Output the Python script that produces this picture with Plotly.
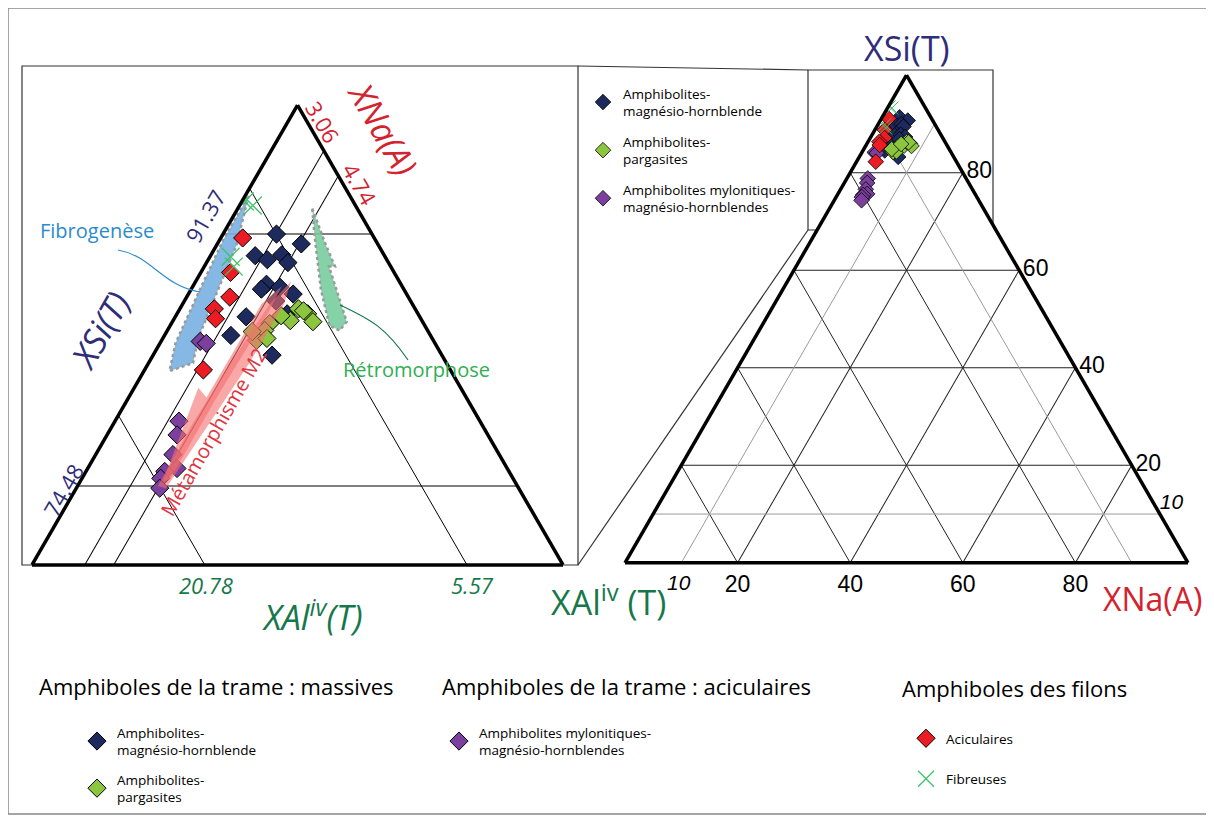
import plotly.graph_objects as go

PAGE_W, PAGE_H, OFF = 1214, 823, 8
W, H = PAGE_W - 2 * OFF, PAGE_H - 2 * OFF
FONT = "Open Sans"

# ternary coordinates: a = XSi(T), c = XNa(A), b = XAl iv (T) (rest up to 100)
mghb_si = [91.36, 90.70, 89.91, 89.64, 89.97, 89.45, 88.00, 87.67, 87.80, 87.34, 86.02, 85.82, 84.57, 83.25, 86.88]
mghb_na = [3.10, 4.87, 2.59, 3.43, 4.10, 4.72, 4.20, 4.07, 5.08, 6.08, 6.39, 4.11, 3.85, 6.90, 5.30]

parg_si = [85.36, 84.90, 84.24, 84.37, 85.56, 86.35, 86.02, 85.49, 84.83, 86.22, 85.89]
parg_na = [5.71, 5.65, 5.51, 6.04, 6.80, 6.88, 7.58, 8.15, 4.96, 7.24, 6.10]

mylo_si = [84.17, 84.04, 78.83, 77.91, 76.59, 75.66, 75.46, 75.00, 74.34]
mylo_na = [2.27, 2.69, 3.71, 4.06, 4.48, 5.18, 4.57, 4.57, 4.84]

acic_si = [91.10, 88.79, 87.14, 86.35, 85.69, 82.26]
acic_na = [1.27, 1.72, 2.50, 2.00, 2.40, 3.41]

fibr_si = [93.54, 93.27, 89.84, 89.18]
fibr_na = [0.17, 0.77, 1.20, 1.71]

# zoomed ternary: axis minimum and labelled grid values
zoom_si_min = 69.2
zoom_si_ticks = [74.48, 91.37]
zoom_al_ticks = [5.57, 20.78]
zoom_na_ticks = [3.06, 4.74]

# full ternary grid
full_ticks = [20, 40, 60, 80]
minor_tick = 10

# trend arrows (a = XSi, c = XNa)
fibro_si = [93.93, 90.63, 87.34, 84.37, 82.72, 82.19, 84.04, 87.34, 90.96]
fibro_na = [0.20, 1.15, 1.62, 2.05, 2.58, 1.48, 0.90, 0.55, 0.21]
retro_si = [93.07, 90.63, 89.18, 89.18, 85.49, 84.90, 85.23, 87.67, 91.29]
retro_na = [4.32, 6.33, 7.59, 7.24, 10.11, 9.99, 9.23, 7.52, 5.34]
meta1_si = [88.19, 86.68, 82.72, 78.10, 74.34, 74.48, 78.76, 83.38, 86.68]
meta1_na = [5.53, 5.88, 5.85, 5.50, 5.20, 4.66, 4.58, 4.80, 5.05]
meta2_si = [87.86, 86.02, 80.08, 74.94, 74.81, 81.07, 80.41, 86.68]
meta2_na = [5.16, 5.26, 5.10, 5.14, 4.79, 3.71, 4.52, 4.57]

C_NAVY = "#1d2a5e"
C_GREEN = "#8cc63f"
C_PURPLE = "#7b3f9e"
C_RED = "#ec1c24"
C_X = "#3cc46a"
T_NAVY = "#2e2d78"
T_RED = "#d2232f"
T_GREEN = "#16784a"


# page pixel -> paper fraction (the page adds an 8px body margin)
def px(x):
    return (x - OFF) / W


def py(y):
    return 1 - (y - OFF) / H


groups = [
    ("Amphibolites-<br>magnésio-hornblende", mghb_si, mghb_na, "diamond", C_NAVY, "legend", True),
    ("Amphibolites-<br>pargasites", parg_si, parg_na, "diamond", C_GREEN, "legend", True),
    ("Amphibolites mylonitiques-<br>magnésio-hornblendes", mylo_si, mylo_na, "diamond", C_PURPLE, "legend2", True),
    ("Aciculaires", acic_si, acic_na, "diamond", C_RED, "legend3", False),
    ("Fibreuses", fibr_si, fibr_na, "x-thin", C_X, "legend3", False),
]

fig = go.Figure()

# arrows under the points (blue, green)
for a_, c_, fill in [(fibro_si, fibro_na, "rgba(120,176,225,0.9)"),
                     (retro_si, retro_na, "rgba(120,205,160,0.9)")]:
    fig.add_trace(go.Scatterternary(
        a=a_ + a_[:1], c=c_ + c_[:1], sum=100, mode="lines", fill="toself",
        fillcolor=fill, line=dict(color="#9a9a9a", width=2.5, dash="dot"),
        subplot="ternary", showlegend=False, hoverinfo="skip"))

for name, si, na, sym, col, leg, in_box in groups:
    is_x = sym == "x-thin"
    mk = dict(symbol=sym, size=18 if is_x else 14, color=col,
              line=dict(color=col if is_x else "black", width=1.3 if is_x else 1))
    fig.add_trace(go.Scatterternary(
        a=si, c=na, sum=100, mode="markers", name=name, marker=mk,
        subplot="ternary", legend=leg, legendgroup=name, showlegend=True))

for a_, c_ in [(meta1_si, meta1_na), (meta2_si, meta2_na)]:
    fig.add_trace(go.Scatterternary(
        a=a_ + a_[:1], c=c_ + c_[:1], sum=100, mode="lines", fill="toself",
        fillcolor="rgba(245,110,110,0.6)", line=dict(width=0),
        subplot="ternary", showlegend=False, hoverinfo="skip"))

# full ternary: minor grid lines at 10
m = minor_tick
for a_, c_ in [([m, m], [0, 100 - m]), ([100 - m, 0], [0, 100 - m]), ([100 - m, 0], [m, m])]:
    fig.add_trace(go.Scatterternary(
        a=a_, c=c_, sum=100, mode="lines", line=dict(color="#9b9b9b", width=1),
        subplot="ternary2", showlegend=False, hoverinfo="skip"))

for name, si, na, sym, col, leg, in_box in groups:
    is_x = sym == "x-thin"
    mk = dict(symbol=sym, size=13 if is_x else 12, color=col,
              line=dict(color=col if is_x else "black", width=1 if is_x else 0.8))
    fig.add_trace(go.Scatterternary(
        a=si, c=na, sum=100, mode="markers", name=name, marker=mk,
        subplot="ternary2", legend="legend4", legendgroup=name + "4",
        showlegend=in_box))

# full ternary: italic minor label on the right side
fig.add_trace(go.Scatterternary(
    a=[m], c=[100 - m], sum=100, mode="text",
    text=["<i>%d</i>" % m], textposition="top right",
    textfont=dict(family="Liberation Sans", size=21, color="black"),
    cliponaxis=False, subplot="ternary2", showlegend=False, hoverinfo="skip"))


def zaxis(vals, color, mn=0):
    return dict(min=mn, tickmode="array", tickvals=vals, ticks="",
                showticklabels=False,
                linecolor="black", linewidth=3.5, gridcolor="black", gridwidth=1,
                showgrid=True, title=dict(text=" ", font=dict(size=1)))


def faxis(labels=False):
    ax = dict(tickmode="array", tickvals=full_ticks, ticks="", showticklabels=False,
              linecolor="black", linewidth=3.5, gridcolor="#222", gridwidth=1.1,
              showgrid=True, title=dict(text=" ", font=dict(size=1)))
    if labels:
        # bottom edge read as XNa(A), right edge read as XSi(T)
        ax.update(showticklabels=True, ticktext=[str(100 - v) for v in full_ticks],
                  tickfont=dict(family="Liberation Sans", size=23, color="black"))
    return ax


ann = []


def label(x, y, text, color, size, angle=0, anchor="center", italic=False, fam=FONT):
    ann.append(dict(x=px(x), y=py(y), xref="paper", yref="paper", text=text,
                    showarrow=False, textangle=angle, xanchor=anchor, yanchor="middle",
                    font=dict(family=fam, size=size, color=color,
                              style="italic" if italic else "normal")))


label(907, 48, "XSi(T)", T_NAVY, 34)
label(608, 600, "XAl<sup>iv</sup> (T)", T_GREEN, 34)
label(1152, 598, "XNa(A)", T_RED, 32)
label(679, 582, str(m), "black", 21, italic=True, fam="Liberation Sans")
label(100, 330, "XSi(T)", T_NAVY, 34, -60, italic=True)
label(383, 128, "XNa(A)", T_RED, 34, 60, italic=True)
label(312, 615, "XAl<sup>iv</sup>(T)", T_GREEN, 34, italic=True)
label(205, 216, str(zoom_si_ticks[1]), T_NAVY, 22, -60)
label(63, 490, str(zoom_si_ticks[0]), T_NAVY, 22, -60)
label(323, 122, str(zoom_na_ticks[0]), T_RED, 22, 60)
label(360, 184, str(zoom_na_ticks[1]), T_RED, 22, 60)
label(206, 585, str(zoom_al_ticks[1]), T_GREEN, 22, italic=True)
label(472, 585, str(zoom_al_ticks[0]), T_GREEN, 22, italic=True)
label(97, 230, "Fibrogenèse", "#2b8ccc", 20)
label(416, 370, "Rétromorphose", "#2fae52", 20)
label(214, 432, "Métamorphisme M2", "#e0343f", 20, -60)
label(37, 686, "Amphiboles de la trame : massives", "black", 22, anchor="left")
label(440, 686, "Amphiboles de la trame : aciculaires", "black", 22, anchor="left")
label(900, 688, "Amphiboles des filons", "black", 22, anchor="left")


def seg(x0, y0, x1, y1, color="#333", width=1.2):
    return dict(type="line", xref="paper", yref="paper", x0=px(x0), y0=py(y0),
                x1=px(x1), y1=py(y1), line=dict(color=color, width=width))


def box(x0, y0, x1, y1, color="#333", width=1.2):
    return dict(type="rect", xref="paper", yref="paper", x0=px(x0), y0=py(y0),
                x1=px(x1), y1=py(y1), line=dict(color=color, width=width), layer="below")


def curve(pts, color):
    p = "M %f,%f C %f,%f %f,%f %f,%f" % tuple(v for x, y in pts for v in (px(x), py(y)))
    return dict(type="path", xref="paper", yref="paper", path=p,
                line=dict(color=color, width=1.2))


shapes = [
    box(8, 8, 1207, 814, "#888", 1.5),
    box(22, 66, 578, 565),
    box(808, 70, 993, 230),
    seg(578, 66, 808, 70),
    seg(578, 565, 808, 230),
    curve([(118, 250), (152, 256), (162, 286), (200, 292)], "#2b8ccc"),
    curve([(340, 305), (372, 320), (386, 328), (408, 360)], "#16784a"),
]

leg_font = dict(family=FONT, size=13.5, color="black")
fig.update_layout(
    width=W, height=H, margin=dict(l=0, r=0, t=0, b=0, autoexpand=False),
    paper_bgcolor="white", plot_bgcolor="white",
    ternary=dict(
        domain=dict(x=[px(32), px(563)], y=[py(565), py(105)]),
        sum=100, bgcolor="white",
        aaxis=zaxis(zoom_si_ticks, T_NAVY, mn=zoom_si_min),
        baxis=zaxis(zoom_al_ticks, T_GREEN),
        caxis=zaxis(zoom_na_ticks, T_RED),
    ),
    ternary2=dict(
        domain=dict(x=[px(625), px(1188)], y=[py(563), py(75)]),
        sum=100, bgcolor="white",
        aaxis=faxis(), baxis=faxis(labels=True), caxis=faxis(labels=True),
    ),
    legend=dict(x=px(77), y=py(717), xanchor="left", yanchor="top", font=leg_font,
                tracegroupgap=9, bgcolor="rgba(0,0,0,0)"),
    legend2=dict(x=px(439), y=py(717), xanchor="left", yanchor="top", font=leg_font,
                 bgcolor="rgba(0,0,0,0)"),
    legend3=dict(x=px(906), y=py(723), xanchor="left", yanchor="top", font=leg_font,
                 tracegroupgap=20, bgcolor="rgba(0,0,0,0)"),
    legend4=dict(x=px(583), y=py(78), xanchor="left", yanchor="top", font=leg_font,
                 tracegroupgap=10, bgcolor="white"),
    annotations=ann,
    shapes=shapes,
)

fig.write_html("out.html")
